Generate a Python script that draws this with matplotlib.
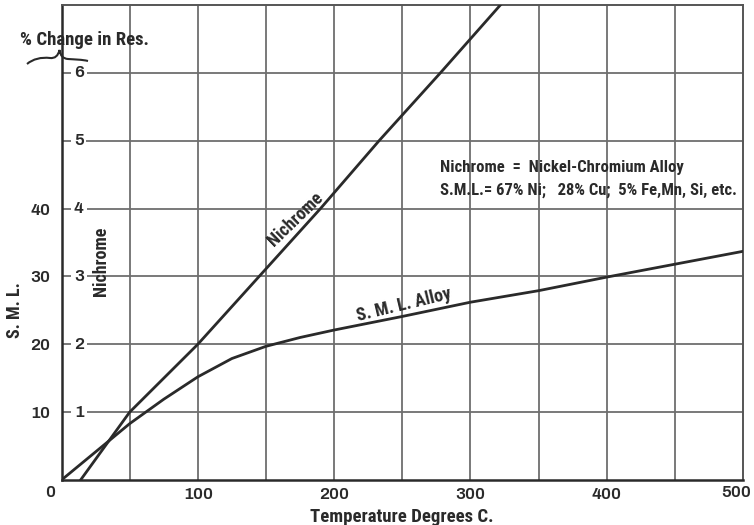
import matplotlib
matplotlib.use("Agg")
import matplotlib.pyplot as plt
from matplotlib.path import Path
from matplotlib.patches import PathPatch

# ── Data ─────────────────────────────────────────────────────────────────────
nichrome_temp = [14, 50, 100, 145, 190, 233, 278, 322]
nichrome_val  = [0, 10, 20, 30, 40, 50, 60, 70]

sml_temp = [0, 35, 50, 75, 100, 125, 150, 175, 200, 250, 300, 350, 400, 450, 500]
sml_val  = [0, 5.8, 8.3, 11.9, 15.2, 17.9, 19.7, 21.0, 22.1, 24.1, 26.2, 27.9, 29.9, 31.8, 33.7]

x_ticks       = [100, 200, 300, 400]
outer_y_ticks = [10, 20, 30, 40]
inner_y_ticks = [10, 20, 30, 40, 50, 60]
inner_y_labels = ["1", "2", "3", "4", "5", "6"]

# ── Style ────────────────────────────────────────────────────────────────────
FONT   = ["Roboto Condensed", "DejaVu Sans"]
FONT_W = ["Archivo", "DejaVu Sans"]
INK    = "#2a2a2a"
GRID   = "#6e6e6e"
NUM_FS = 12.5

W, H = 754, 525
fig = plt.figure(figsize=(W / 100, H / 100), dpi=100)
ax = fig.add_axes([61.5 / W, 1 - 480 / H, (743 - 61.5) / W, (480 - 5) / H])

ax.set_xlim(0, 500)
ax.set_ylim(0, 70)

# grid: every 50 deg, every 10 units
for x in range(50, 500, 50):
    ax.axvline(x, color=GRID, lw=1.3, zorder=1)
for y in range(10, 70, 10):
    ax.axhline(y, color=GRID, lw=1.3, zorder=1)

for side in ("left", "bottom"):
    ax.spines[side].set_linewidth(1.8)
    ax.spines[side].set_color(INK)
for side in ("top", "right"):
    ax.spines[side].set_linewidth(1.4)
    ax.spines[side].set_color("#555555")

# curves
ax.plot(nichrome_temp, nichrome_val, color=INK, lw=2.0, zorder=3)
ax.plot(sml_temp, sml_val, color=INK, lw=2.0, zorder=3)

# ticks
ax.set_xticks(x_ticks)
ax.set_xticklabels([str(t) for t in x_ticks])
ax.set_yticks(outer_y_ticks)
ax.set_yticklabels([str(t) for t in outer_y_ticks])
ax.tick_params(axis="both", length=0, colors=INK)
ax.tick_params(axis="x", pad=5)
ax.tick_params(axis="y", pad=8)
for lab in ax.get_xticklabels() + ax.get_yticklabels():
    lab.set_fontfamily(FONT_W)
    lab.set_fontweight("bold")
    lab.set_fontsize(NUM_FS)
    lab.set_color(INK)

# corner zero and the last x label (kept inside the picture)
ax.text(-8.5, -1.8, "0", ha="center", va="center", fontsize=NUM_FS,
        fontweight="bold", family=FONT_W, color=INK, clip_on=False)
ax.text(495, -1.8, "500", ha="center", va="center", fontsize=NUM_FS,
        fontweight="bold", family=FONT_W, color=INK, clip_on=False)

# inner % change scale (labels sit on the grid lines)
for y, lab in zip(inner_y_ticks, inner_y_labels):
    ax.text(12.8, y, lab, ha="center", va="center", fontsize=NUM_FS,
            fontweight="bold", family=FONT_W, color=INK, zorder=4,
            bbox=dict(boxstyle="square,pad=0.15", fc="white", ec="none"))

# curve labels
ax.text(172, 38.4, "Nichrome", rotation=44, ha="center", va="center",
        fontsize=13, fontweight="bold", family=FONT, color=INK, zorder=4)
ax.text(251, 25.8, "S. M. L. Alloy", rotation=13.5, ha="center", va="center",
        fontsize=13, fontweight="bold", family=FONT, color=INK, zorder=4)
ax.text(29, 32.2, "Nichrome", rotation=90, ha="center", va="center",
        fontsize=13, fontweight="bold", family=FONT, color=INK, zorder=4)

# composition note
ax.text(278, 46.1, "Nichrome  =  Nickel-Chromium Alloy", ha="left",
        va="center", fontsize=12, fontweight="bold", family=FONT, color=INK,
        zorder=4)
ax.text(278, 42.7, "S.M.L.= 67% Ni;   28% Cu;  5% Fe,Mn, Si, etc.", ha="left",
        va="center", fontsize=12, fontweight="bold", family=FONT, color=INK,
        zorder=4)

# axis titles
fig.text(402 / W, 1 - 517 / H, "Temperature Degrees C.", ha="center",
         va="center", fontsize=13.5, fontweight="bold", family=FONT, color=INK)
fig.text(15 / W, 1 - 310 / H, "S. M. L.", rotation=90, ha="center",
         va="center", fontsize=13, fontweight="bold", family=FONT, color=INK)
fig.text(84 / W, 1 - 40 / H, "% Change in Res.", ha="center", va="center",
         fontsize=13.5, fontweight="bold", family=FONT, color=INK)

# curly brace under the % scale title
def px(x, y):
    return (x / W, 1 - y / H)

verts = [px(27, 64), px(33, 59), px(41, 57), px(50, 58),
         px(55, 58.5), px(58, 56), px(59.5, 50),
         px(60.5, 56), px(63, 58.5), px(68, 59),
         px(75, 59.5), px(82, 59.5), px(88, 61)]
codes = [Path.MOVETO] + [Path.CURVE4] * 12
brace = PathPatch(Path(verts, codes), transform=fig.transFigure,
                  fc="none", ec=INK, lw=1.5)
fig.patches.append(brace)

fig.savefig("out.png", dpi=100, facecolor="white")
